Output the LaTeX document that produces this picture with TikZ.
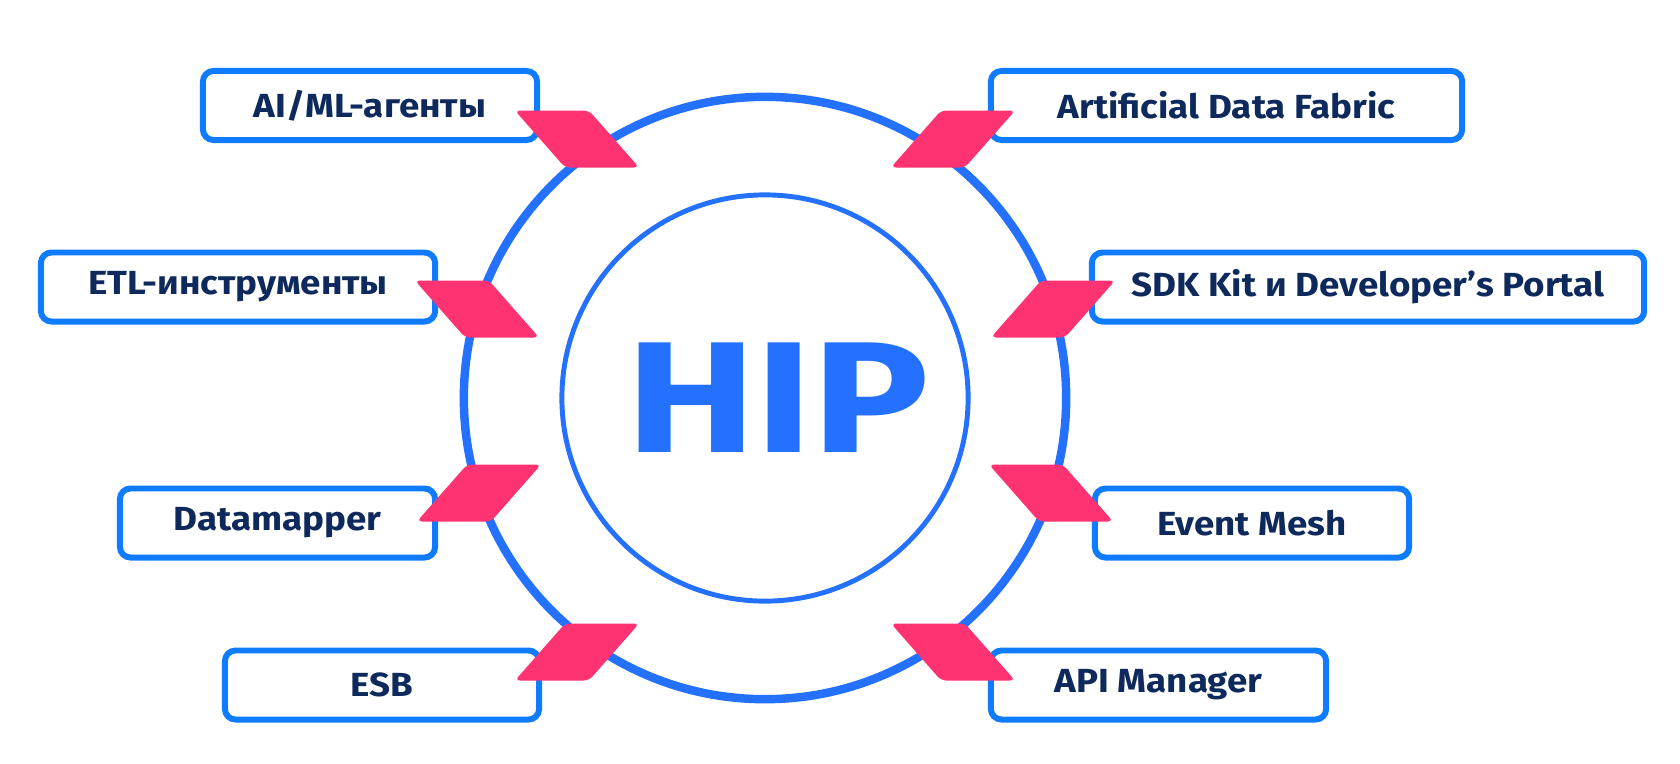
\documentclass[tikz,border=0pt]{standalone}
\usepackage{fontspec}
\setmainfont{Fira Sans}
\newfontfamily\labelfont[FakeStretch=1.1]{Fira Sans}
\newfontfamily\hipfont[FakeStretch=1.23]{Fira Sans}
\usetikzlibrary{positioning}
\definecolor{hipBlue}{HTML}{2470FF}
\definecolor{boxBlue}{HTML}{0F7BFF}
\definecolor{plugPink}{HTML}{FF3372}
\definecolor{textNavy}{HTML}{0E2A5C}
\tikzset{
  tool/.style={draw=boxBlue, line width=1.7pt, rounded corners=3pt, fill=white,
               font=\labelfont\fontsize{9.5}{11}\selectfont\bfseries, text=textNavy,
               minimum height=0.69cm, inner sep=0pt, minimum width=#1},
  tool/.default=3.2cm,
  plug/.style={fill=plugPink, rounded corners=1.5pt},
  ring/.style={draw=hipBlue, line width=2.4pt},
}

\begin{document}
\begin{tikzpicture}[x=0.01cm, y=-0.01cm]
    \useasboundingbox (0,0) rectangle (1680,763);
    \coordinate (c) at (765,398);
    \draw[ring] (c) circle[radius=3.01cm];
    \draw[ring, line width=1.4pt] (c) circle[radius=2.03cm];
    \node[text=hipBlue, font=\hipfont\fontsize{45}{45}\selectfont\bfseries] (hip) at (778,398) {HIP};
    % left side
    \node[tool=3.34cm] (ai) at (370,105.5) {AI/ML-агенты};
    \node[tool=3.94cm] (etl) at (238,287) {ETL-инструменты};
    \node[tool=3.15cm] (dm) at (277.5,523) {Datamapper};
    \node[tool=3.14cm] (esb) at (382,685) {ESB};
    % right side
    \node[tool=4.71cm] (adf) at (1226.5,105.5) {Artificial Data Fabric};
    \node[tool=5.52cm] (sdk) at (1368,287) {SDK Kit и Developer’s Portal};
    \node[tool=3.14cm] (em) at (1252,523) {Event Mesh};
    \node[tool=3.35cm] (api) at (1158.5,685) {API Manager};
    % plugs on the ring
    \foreach \px/\py/\s in {577/139/-0.88, 953/139/0.88, 477/309/-0.88, 1053/309/0.88,
                            479/493/0.88, 1051/493/-0.88, 577/652/0.88, 953/652/-0.88}
      \fill[plug, shift={(\px,\py)}, xslant=\s] (-37,-28.5) rectangle (37,28.5);
\end{tikzpicture}
\end{document}
